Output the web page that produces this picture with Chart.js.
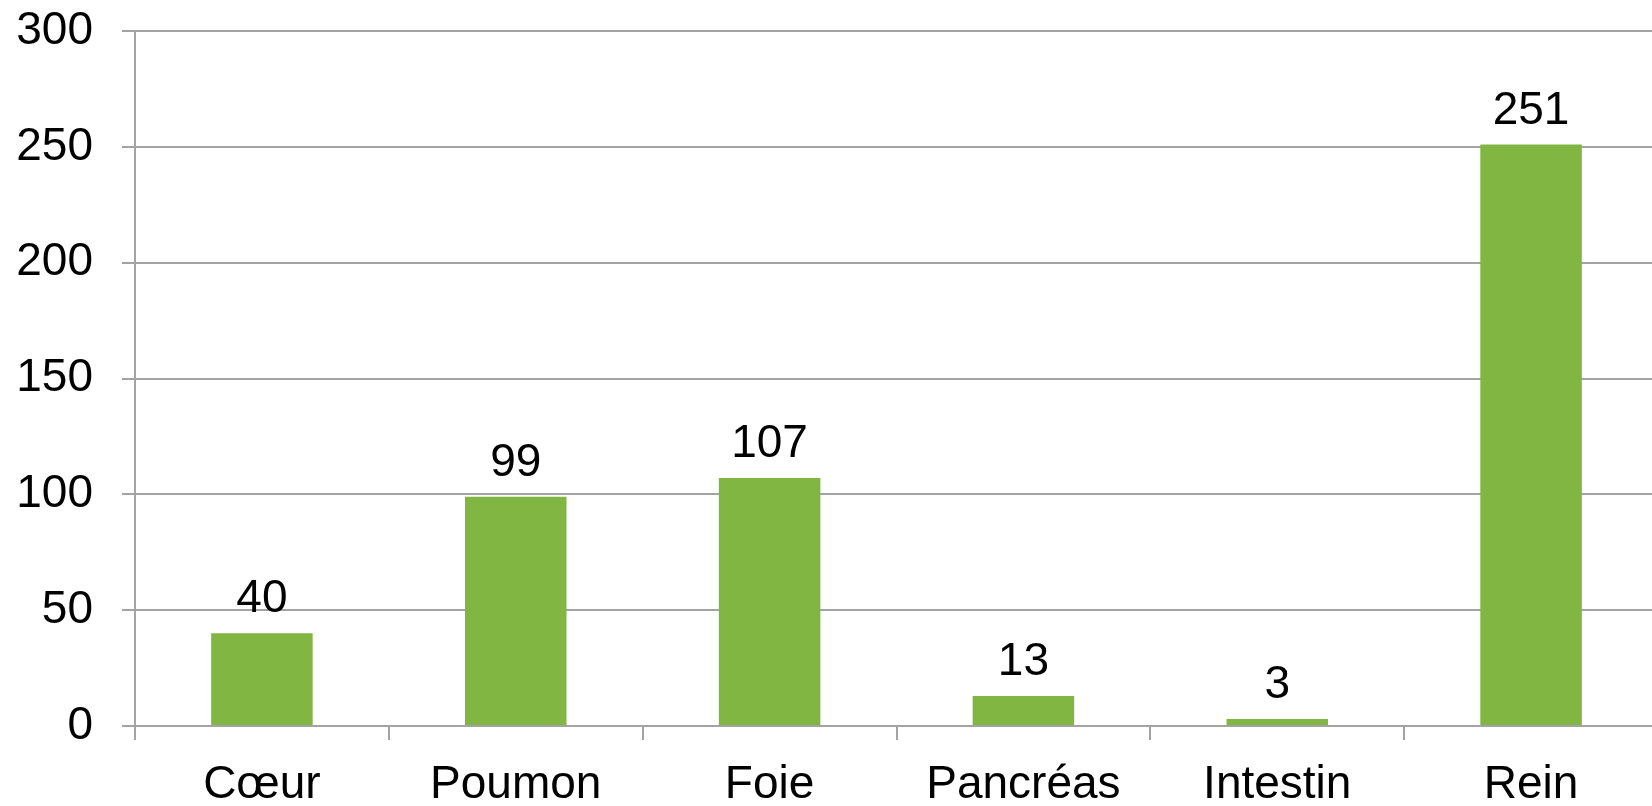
<!DOCTYPE html>
<html>
<head>
<meta charset="utf-8">
<script src="https://cdn.jsdelivr.net/npm/chart.js@4"></script>
<style>
  html, body { margin: 0; padding: 0; background: #fff; overflow: hidden; }
  #wrap { position: relative; width: 1658px; height: 806px; }
</style>
</head>
<body>
<div id="wrap"><canvas id="bar_chart_organes"></canvas></div>
<script>
var organes = ['Cœur', 'Poumon', 'Foie', 'Pancréas', 'Intestin', 'Rein'];
var greffes = [40, 99, 107, 13, 3, 251];
var yMin = 0, yMax = 300, yStep = 50;

var axisGray = '#a3a3a3';
Chart.defaults.font.family = "'Liberation Sans', Arial, sans-serif";
Chart.defaults.font.size = 46;
Chart.defaults.color = '#000';

// value printed above each bar
var barValues = {
    id: 'barValues',
    afterDatasetsDraw: function (chart) {
        var ctx = chart.ctx;
        ctx.save();
        ctx.font = "46px 'Liberation Sans', Arial, sans-serif";
        ctx.fillStyle = '#000';
        ctx.textAlign = 'center';
        ctx.textBaseline = 'alphabetic';
        chart.getDatasetMeta(0).data.forEach(function (bar, i) {
            ctx.fillText(String(chart.data.datasets[0].data[i]), bar.x, bar.y - 21);
        });
        ctx.restore();
    }
};

new Chart(document.getElementById('bar_chart_organes').getContext('2d'), {
    type: 'bar',
    data: {
        labels: organes,
        datasets: [{
            data: greffes,
            backgroundColor: '#82b642',
            barPercentage: 0.4,
            categoryPercentage: 1.0
        }]
    },
    options: {
        responsive: true,
        maintainAspectRatio: false,
        animation: false,
        layout: { padding: { top: 31, left: 0, right: 0, bottom: 0 } },
        plugins: { legend: { display: false }, tooltip: { enabled: false } },
        scales: {
            x: {
                grid: { drawOnChartArea: false, drawTicks: true, tickLength: 14, color: axisGray, lineWidth: 2 },
                border: { display: true, color: axisGray, width: 2 },
                ticks: { padding: 18, maxRotation: 0, autoSkip: false },
                afterFit: function (scale) {
                    scale.height = 80;
                    scale.paddingLeft = 0;
                    scale.paddingRight = 0;
                }
            },
            y: {
                min: yMin,
                max: yMax,
                grid: { color: axisGray, lineWidth: 2, tickLength: 13 },
                border: { display: true, color: axisGray, width: 2 },
                ticks: { stepSize: yStep, padding: 29 },
                afterFit: function (scale) {
                    scale.width = 135;
                    scale.paddingTop = 0;
                    scale.paddingBottom = 0;
                }
            }
        }
    },
    plugins: [barValues]
});
</script>
</body>
</html>
